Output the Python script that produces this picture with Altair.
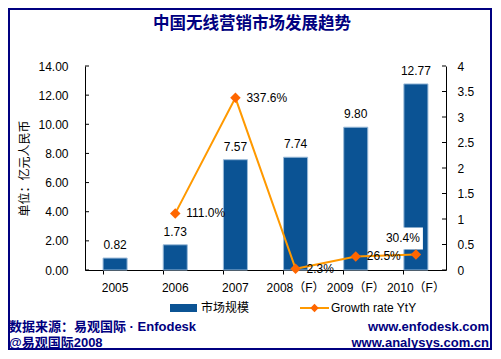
import altair as alt
import pandas as pd

# ---------------- data ----------------
years = ["2005", "2006", "2007", "2008（F）", "2009（F）", "2010（F）"]
market_size = [0.82, 1.73, 7.57, 7.74, 9.80, 12.77]
growth_years = ["2006", "2007", "2008（F）", "2009（F）", "2010（F）"]
growth_rate = [1.110, 3.376, 0.023, 0.265, 0.304]
growth_text = ["111.0%", "337.6%", "2.3%", "26.5%", "30.4%"]
left_ticks = [0, 2, 4, 6, 8, 10, 12, 14]
right_ticks = [0, 0.5, 1, 1.5, 2, 2.5, 3, 3.5, 4]

TITLE = "中国无线营销市场发展趋势"
Y_TITLE = "单位：亿元人民币"
LEG1 = "市场规模"
LEG2 = "Growth rate YtY"
SRC1 = "数据来源：易观国际 · Enfodesk"
SRC2 = "@易观国际2008"
URL1 = "www.enfodesk.com"
URL2 = "www.analysys.com.cn"

# ---------------- style ----------------
BAR = "#0B5394"
BAR_EDGE = "#9BBBD9"
LINE = "#FF9900"
MARK = "#FF6600"
NAVY = "#000080"
FONT = "Liberation Sans, Noto Sans CJK SC"
CJK = "Noto Sans CJK SC"
W, H = 361, 204

bars_df = pd.DataFrame({"year": years, "value": market_size,
                        "label": [f"{v:.2f}" for v in market_size]})
growth_df = pd.DataFrame({"year": growth_years, "rate": growth_rate, "label": growth_text})
lt_df = pd.DataFrame({"value": left_ticks})
rt_df = pd.DataFrame({"rate": right_ticks})
one = pd.DataFrame({"k": [0]})

xscale = alt.Scale(domain=years, paddingInner=0.6, paddingOuter=0.3)
xenc = alt.X("year:N", scale=xscale, sort=years,
             axis=alt.Axis(title=None, labelAngle=0, bandPosition=0,
                           tickSize=4, labelPadding=8, labelFontSize=12,
                           labelFont=FONT, labelColor="black",
                           domainColor="black", tickColor="black"))

yleft = alt.Y("value:Q", scale=alt.Scale(domain=[0, 14], nice=False),
              axis=alt.Axis(orient="left", values=left_ticks, format=".2f", ticks=False,
                            labelPadding=17, labelFontSize=12, labelFont=FONT,
                            labelColor="black", domainColor="black", grid=False,
                            title=Y_TITLE, titlePadding=6, titleFontSize=12,
                            titleFont=CJK, titleFontWeight="normal", titleColor="black"))
yright = alt.Y("rate:Q", scale=alt.Scale(domain=[0, 4], nice=False),
               axis=alt.Axis(orient="right", values=right_ticks, format="~g", ticks=False,
                             labelPadding=11, labelFontSize=12, labelFont=FONT,
                             labelColor="black", domainColor="black", grid=False, title=None))

bars = alt.Chart(bars_df).mark_bar(color=BAR, stroke=BAR_EDGE, strokeWidth=1).encode(x=xenc, y=yleft)
bar_text = alt.Chart(bars_df).mark_text(dy=-13, baseline="middle", fontSize=12, font=FONT,
                                        color="black").encode(x=xenc, y=yleft, text="label:N")
lticks = alt.Chart(lt_df).mark_rule(color="black").encode(
    y=yleft, x=alt.value(0), x2=alt.value(4))

line = alt.Chart(growth_df).mark_line(color=LINE, strokeWidth=2).encode(x=xenc, y=yright)
pts = alt.Chart(growth_df).mark_point(shape="diamond", filled=True, color=MARK, size=110,
                                      opacity=1).encode(x=xenc, y=yright)
box = alt.Chart(growth_df).transform_filter(alt.datum.label == "30.4%").mark_point(
    shape="M-1,-0.55L1,-0.55L1,0.55L-1,0.55Z", filled=True, color="white", size=1600,
    opacity=1, xOffset=-13, yOffset=-16).encode(x=xenc, y=yright)
g_text = alt.Chart(growth_df).transform_filter(alt.datum.label != "30.4%").mark_text(
    align="left", dx=11, baseline="middle", fontSize=12, font=FONT, color="black"
).encode(x=xenc, y=yright, text="label:N")
g_text2 = alt.Chart(growth_df).transform_filter(alt.datum.label == "30.4%").mark_text(
    align="center", dx=-13, dy=-16, baseline="middle", fontSize=12, font=FONT, color="black"
).encode(x=xenc, y=yright, text="label:N")
rticks = alt.Chart(rt_df).mark_rule(color="black").encode(
    y=yright, x=alt.value(W - 4), x2=alt.value(W))


def txt(s, x, y, **kw):
    return alt.Chart(one).mark_text(text=s, **kw).encode(x=alt.value(x), y=alt.value(y))


frame = alt.Chart(one).mark_rect(fillOpacity=0, stroke=NAVY, strokeWidth=2).encode(
    x=alt.value(-76), x2=alt.value(406), y=alt.value(-57), y2=alt.value(283))
title = txt(TITLE, 167, -42, fontSize=16.5, fontWeight="bold", font=CJK, color=NAVY,
            align="center", baseline="middle")
leg_sw = alt.Chart(one).mark_rect(color=BAR).encode(
    x=alt.value(85), x2=alt.value(112), y=alt.value(238), y2=alt.value(246))
leg_t1 = txt(LEG1, 116, 242, fontSize=12, font=CJK, color="black", align="left", baseline="middle")
leg_ln = alt.Chart(one).mark_rule(color=LINE, strokeWidth=2).encode(
    x=alt.value(215), x2=alt.value(244), y=alt.value(242))
leg_pt = alt.Chart(one).mark_point(shape="diamond", filled=True, color=MARK, size=70,
                                   opacity=1).encode(x=alt.value(229.5), y=alt.value(242))
leg_t2 = txt(LEG2, 246, 242, fontSize=12, font=FONT, color="black", align="left", baseline="middle")
src1 = txt(SRC1, -76, 261, fontSize=13, fontWeight="bold", font=FONT, color=NAVY,
           align="left", baseline="middle")
src2 = txt(SRC2, -76, 277, fontSize=13, fontWeight="bold", font=FONT, color=NAVY,
           align="left", baseline="middle")
url1 = txt(URL1, 404, 261, fontSize=13, fontWeight="bold", font=FONT, color=NAVY,
           align="right", baseline="middle")
url2 = txt(URL2, 404, 277, fontSize=13, fontWeight="bold", font=FONT, color=NAVY,
           align="right", baseline="middle")

left_group = alt.layer(bars, bar_text, lticks, frame, title, leg_sw, leg_t1, leg_ln, leg_pt,
                       leg_t2, src1, src2, url1, url2)
right_group = alt.layer(line, box, pts, g_text, g_text2, rticks)

chart = alt.layer(left_group, right_group).resolve_scale(y="independent").properties(
    width=W, height=H,
    padding={"left": 77, "top": 58, "right": 47, "bottom": 81},
    autosize=alt.AutoSizeParams(type="none"),
    background="white",
).configure_view(stroke="transparent")

chart.save("out.html", embed_options={"renderer": "svg", "actions": False})
